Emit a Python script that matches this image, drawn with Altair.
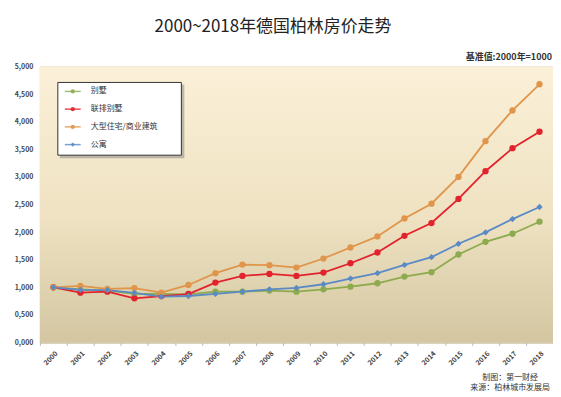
import altair as alt
import pandas as pd

# ---- data ----
years = [str(y) for y in range(2000, 2019)]
series_names = ["别墅", "联排别墅", "大型住宅/商业建筑", "公寓"]
villa = [1000, 960, 940, 880, 880, 870, 920, 920, 940, 921, 964, 1012, 1073, 1194, 1273, 1594, 1824, 1970, 2188]
townhouse = [1000, 903, 921, 800, 840, 878, 1085, 1206, 1242, 1206, 1267, 1436, 1630, 1933, 2164, 2600, 3103, 3520, 3818]
large_comm = [1000, 1024, 970, 985, 903, 1042, 1255, 1412, 1400, 1358, 1521, 1721, 1921, 2248, 2515, 3000, 3647, 4205, 4678]
apartment = [1000, 952, 950, 900, 830, 842, 880, 920, 964, 988, 1055, 1158, 1255, 1406, 1545, 1788, 1994, 2236, 2455]
y_ticks = [0, 500, 1000, 1500, 2000, 2500, 3000, 3500, 4000, 4500, 5000]

title_text = "2000~2018年德国柏林房价走势"
base_note = "基准值:2000年=1000"
credit_lines = ["制图：第一财经", "来源：柏林城市发展局"]

colors = ["#8dab4e", "#e2222c", "#e0954a", "#5a8ac6"]
shapes = ["circle", "circle", "circle", "diamond"]

rows = []
for name, vals in zip(series_names, [villa, townhouse, large_comm, apartment]):
    for y, v in zip(years, vals):
        rows.append({"year": y, "value": v, "series": name})
df = pd.DataFrame(rows)

W, H = 515, 277
FONT = "Noto Sans CJK SC"
one = pd.DataFrame({"k": [0]})

x_enc = alt.X("year:O", scale=alt.Scale(type="band", paddingInner=0, paddingOuter=0),
              axis=alt.Axis(title=None, labelAngle=-45, labelFontSize=7, labelFontWeight="bold",
                            labelColor="#444", tickBand="extent", tickSize=3, tickColor="#bbb",
                            domainColor="#c8c0a8", labelPadding=4, grid=False, labelFont=FONT,
                            labelOverlap=False))
y_enc = alt.Y("value:Q", scale=alt.Scale(domain=[0, 5000], nice=False),
              axis=alt.Axis(title=None, values=y_ticks, labelFontSize=7, labelFontWeight="bold",
                            labelColor="#444", ticks=False, domainColor="#b8b8b8", labelPadding=7,
                            gridColor="#d8c69e", gridWidth=1, labelFont=FONT, labelOverlap=False,
                            labelExpr="replace(format(datum.value/1000, '.3f'), '.', ',')"))
color_enc = alt.Color("series:N", scale=alt.Scale(domain=series_names, range=colors), legend=None)
shape_enc = alt.Shape("series:N", scale=alt.Scale(domain=series_names, range=shapes), legend=None)

grad = alt.Gradient(gradient="linear", x1=0, x2=0, y1=0, y2=1,
                    stops=[alt.GradientStop(color="#fbf0d8", offset=0),
                           alt.GradientStop(color="#efe2c2", offset=0.55),
                           alt.GradientStop(color="#d3c6a1", offset=1)])
bg = alt.Chart(one).mark_rect(fill=grad).encode(
    x=alt.value(0), x2=alt.value(W), y=alt.value(0), y2=alt.value(H))

lines = alt.Chart(df).mark_line(strokeWidth=1.8).encode(
    x=x_enc, y=y_enc, color=color_enc, detail="series:N")
points = alt.Chart(df).mark_point(filled=True, size=40, opacity=1).encode(
    x=x_enc, y=y_enc, color=color_enc, shape=shape_enc)

layers = [bg, lines, points]

# legend box
layers.append(alt.Chart(one).mark_rect(fill="#777", opacity=0.45).encode(
    x=alt.value(20), x2=alt.value(145), y=alt.value(18), y2=alt.value(92)))
layers.append(alt.Chart(one).mark_rect(fill="white", stroke="#333", strokeWidth=1).encode(
    x=alt.value(18), x2=alt.value(142), y=alt.value(16), y2=alt.value(89)))
for i, (name, c, s) in enumerate(zip(series_names, colors, shapes)):
    ry = 25 + i * 17.8
    layers.append(alt.Chart(one).mark_rule(color=c, strokeWidth=1.5, opacity=0.8).encode(
        x=alt.value(25), x2=alt.value(41), y=alt.value(ry)))
    layers.append(alt.Chart(one).mark_point(filled=True, color=c, shape=s, size=18, opacity=0.9).encode(
        x=alt.value(33), y=alt.value(ry)))
    layers.append(alt.Chart(one).mark_text(align="left", baseline="middle", fontSize=8, font=FONT,
                                           color="#333").encode(
        x=alt.value(51), y=alt.value(ry), text=alt.value(name)))

# texts
layers.append(alt.Chart(one).mark_text(align="center", baseline="middle", fontSize=17, font=FONT,
                                       color="#222").encode(
    x=alt.value(234), y=alt.value(-40), text=alt.value(title_text)))
layers.append(alt.Chart(one).mark_text(align="right", baseline="middle", fontSize=9, font=FONT,
                                       fontWeight="bold", color="#333").encode(
    x=alt.value(514), y=alt.value(-10), text=alt.value(base_note)))
for i, t in enumerate(credit_lines):
    layers.append(alt.Chart(one).mark_text(align="center", baseline="middle", fontSize=8, font=FONT,
                                           color="#333").encode(
        x=alt.value(472), y=alt.value(313 + i * 10), text=alt.value(t)))

chart = alt.layer(*layers).properties(
    width=W, height=H,
    autosize=alt.AutoSizeParams(type="none"),
    padding={"left": 32, "top": 58, "right": 0, "bottom": 54},
).configure_view(stroke=None)

chart.save("out.html", embed_options={"renderer": "svg", "actions": False})
